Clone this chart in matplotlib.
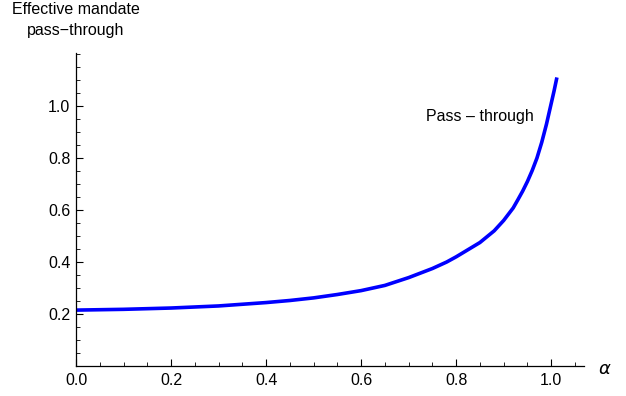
import numpy as np
import matplotlib
matplotlib.use("Agg")
from matplotlib import pyplot as plt
from matplotlib.ticker import MultipleLocator, FixedLocator

# values
alpha = [0.0, 0.1, 0.2, 0.3, 0.4, 0.45, 0.5, 0.55, 0.6, 0.65, 0.7, 0.75,
         0.78, 0.8, 0.82, 0.85, 0.88, 0.9, 0.92, 0.93, 0.94, 0.95, 0.96,
         0.97, 0.98, 0.99, 1.0, 1.006, 1.012]
pass_through = [0.215, 0.218, 0.223, 0.231, 0.244, 0.252, 0.262, 0.275,
                0.29, 0.31, 0.34, 0.375, 0.4, 0.42, 0.442, 0.475, 0.52,
                0.56, 0.608, 0.64, 0.673, 0.71, 0.752, 0.8, 0.86, 0.93,
                1.01, 1.058, 1.11]

x_major = [0.0, 0.2, 0.4, 0.6, 0.8, 1.0]
y_major = [0.2, 0.4, 0.6, 0.8, 1.0]

plt.rcParams['font.family'] = ['Liberation Sans', 'DejaVu Sans']

fig = plt.figure(figsize=(6.26, 3.96), dpi=100)
ax = fig.add_axes([76 / 626, 30 / 396, 508 / 626, 313 / 396])

ax.plot(alpha, pass_through, color=(0, 0, 1), linewidth=2.6,
        solid_capstyle='butt', solid_joinstyle='round')

ax.set_xlim(0, 1.069)
ax.set_ylim(0, 1.204)

ax.xaxis.set_major_locator(FixedLocator(x_major))
ax.yaxis.set_major_locator(FixedLocator(y_major))
ax.xaxis.set_minor_locator(MultipleLocator(0.05))
ax.yaxis.set_minor_locator(MultipleLocator(0.05))
ax.set_xticklabels([f"{v:.1f}" for v in x_major])
ax.set_yticklabels([f"{v:.1f}" for v in y_major])

ax.tick_params(which='major', direction='in', length=5, width=0.8,
               labelsize=11.5, colors='black')
ax.tick_params(which='minor', direction='in', length=3, width=0.6)
ax.tick_params(axis='x', pad=5)
ax.tick_params(axis='y', pad=4)

for side in ['top', 'right']:
    ax.spines[side].set_visible(False)
for side in ['left', 'bottom']:
    ax.spines[side].set_linewidth(0.9)

ax.text(0.85, 0.958, "Pass \u2013 through", fontsize=11.5,
        ha='center', va='center')

fig.text(76 / 626, 1 - 20 / 396, "Effective mandate\npass\u2212through",
         fontsize=11.5, ha='center', va='center', multialignment='center',
         linespacing=1.5)
fig.text(605 / 626, 1 - 369 / 396, r"$\alpha$", fontsize=13,
         ha='center', va='center')

fig.savefig("out.png", dpi=100)
